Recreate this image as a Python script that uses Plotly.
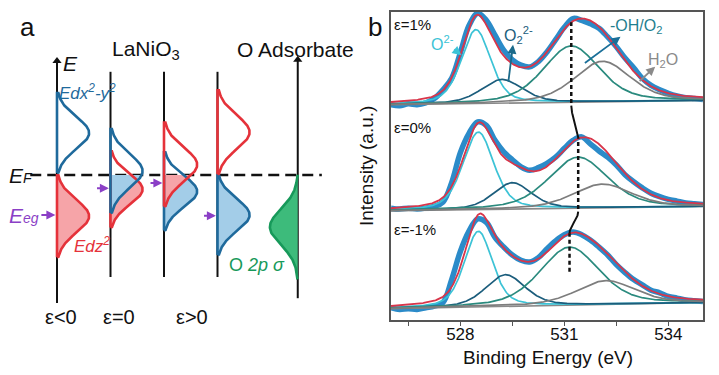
import numpy as np
import plotly.graph_objects as go

W, H = 719, 375

# ======================= Panel b : O 1s XPS data =======================
energy = [526.0, 526.25, 526.5, 526.75, 527.0, 527.25, 527.5, 527.75, 528.0, 528.25,
          528.5, 528.75, 529.0, 529.25, 529.5, 529.75, 530.0, 530.25, 530.5, 530.75,
          531.0, 531.25, 531.5, 531.75, 532.0, 532.25, 532.5, 532.75, 533.0, 533.25,
          533.5, 533.75, 534.0, 534.25, 534.5, 534.75, 535.0]
strain_labels = ["ε=1%", "ε=0%", "ε=-1%"]
stack_offset = [2.307, 1.102, 0.0]

data_p1 = [-0.02, -0.03, -0.01, -0.02, 0.0, 0.05, 0.15, 0.28, 0.57, 0.88,
           1.02, 0.94, 0.77, 0.60, 0.49, 0.43, 0.41, 0.47, 0.58, 0.72,
           0.86, 0.96, 0.94, 0.90, 0.85, 0.75, 0.64, 0.51, 0.40, 0.28,
           0.20, 0.15, 0.11, 0.08, 0.06, 0.05, 0.04]
data_0 = [0.01, 0.0, 0.01, 0.0, 0.01, 0.03, 0.08, 0.30, 0.64, 0.86,
          0.99, 0.95, 0.78, 0.65, 0.56, 0.48, 0.44, 0.47, 0.52, 0.59,
          0.69, 0.78, 0.82, 0.74, 0.66, 0.59, 0.50, 0.39, 0.31, 0.24,
          0.18, 0.14, 0.11, 0.09, 0.07, 0.06, 0.05]
data_m1 = [-0.02, -0.04, -0.03, -0.04, -0.02, 0.0, 0.04, 0.30, 0.62, 0.85,
           0.99, 0.95, 0.78, 0.67, 0.58, 0.52, 0.50, 0.55, 0.65, 0.74,
           0.81, 0.84, 0.81, 0.75, 0.67, 0.58, 0.47, 0.38, 0.30, 0.24,
           0.18, 0.15, 0.11, 0.09, 0.07, 0.06, 0.05]

# fitted components: O2-, O2^2-, -OH/O2, H2O  (centre eV, height, FWHM eV)
peak_colors = ["#3cc3d6", "#1b5d7c", "#2a8a7e", "#7d7d7d"]
center_p1 = [528.45, 529.20, 531.20, 532.10]
height_p1 = [0.84, 0.27, 0.64, 0.46]
fwhm_p1 = [1.00, 1.40, 1.90, 1.90]
center_0 = [528.52, 529.50, 531.40, 532.10]
height_0 = [0.88, 0.30, 0.58, 0.27]
fwhm_0 = [1.05, 1.30, 2.00, 2.00]
center_m1 = [528.52, 529.30, 531.15, 532.20]
height_m1 = [0.86, 0.36, 0.66, 0.27]
fwhm_m1 = [0.95, 1.35, 2.00, 2.00]
bg_left = [-0.02, -0.02, -0.03]
bg_right = [0.03, 0.03, 0.04]
lor_frac = 0.4
dash_low = [0.0, 0.0, 0.39]   # lower end of the -OH guide line (above baseline)

# ======================= Panel a : schematic DOS =======================
col_pos = [0.0, 1.0, 2.0, 3.0, 4.5]          # ε<0, ε=0, ε>0, (4th), O adsorbate
col_top = [2.85, 2.58, 2.58, 2.58, 2.88]
col_bot = [-3.2, -2.55, -2.55, -2.55, -3.08]
col_labels = ["ε<0", "ε=0", "ε>0"]
dx2_center = [1.05, 0.10, -0.41, -1.00]       # E - EF of dx2-y2 band
dx2_sigma = [0.40, 0.42, 0.39, 0.40]
dz2_center = [-1.03, -0.36, 0.26, 1.07]       # E - EF of dz2 band
dz2_sigma = [0.41, 0.38, 0.42, 0.42]
band_amp = [0.60, 0.60, 0.62, 0.60]
o2p_center, o2p_sigma, o2p_amp = -1.30, 0.45, -0.52
eg_level = [-1.0, -0.33, -0.20, -1.02]        # occupied eg centre arrows

RED, RED_F = "#e5323a", "#f6a4a8"
BLUE, BLUE_F = "#1f6a9c", "#a3cde8"
GREEN, GREEN_F = "#17995a", "#3dbb7b"
PURPLE = "#8b3fc6"

fig = go.Figure()


def px(x):
    return x / W


def py(y):
    return 1 - y / H


# ---------- panel a ----------
XA = dict(xaxis="x", yaxis="y")
for i, c in enumerate(col_pos):
    fig.add_trace(go.Scatter(x=[c, c], y=[col_bot[i], col_top[i]], mode="lines",
                             line=dict(color="#111", width=2), hoverinfo="skip",
                             showlegend=False, **XA))
for i in (0, 4):
    fig.add_trace(go.Scatter(x=[col_pos[i]], y=[col_top[i]], mode="markers",
                             marker=dict(symbol="triangle-up", size=8, color="#111"),
                             showlegend=False, hoverinfo="skip", **XA))

# Fermi level
fig.add_trace(go.Scatter(x=[-0.5, 4.95], y=[0, 0], mode="lines",
                         line=dict(color="#111", width=2.5, dash="11px,6px"),
                         showlegend=False, hoverinfo="skip", **XA))


def band(col, cen, sig, amp, k=2.5):
    lo, hi = cen - k * sig, cen + k * sig
    return lo, hi, (lambda e: col + amp * np.exp(-0.5 * ((e - cen) / sig) ** 2))


bands = []
for i in range(4):
    c = col_pos[i]
    bands.append((dz2_center[i], c, dz2_center[i], dz2_sigma[i], band_amp[i], RED, RED_F))
    bands.append((dx2_center[i], c, dx2_center[i], dx2_sigma[i], band_amp[i], BLUE, BLUE_F))

# fills (occupied part, below EF) - lower band first
for _, c, cen, sig, amp, lc, fc in sorted(bands, key=lambda b: b[0]):
    lo, hi, f = band(c, cen, sig, amp)
    top = min(hi, 0.0)
    if top <= lo:
        continue
    e = np.linspace(lo, top, 120)
    xs = np.concatenate([[c], f(e), [c]])
    ys = np.concatenate([[lo], e, [top]])
    fig.add_trace(go.Scatter(x=xs, y=ys, mode="lines", fill="toself", fillcolor=fc,
                             line=dict(width=0), showlegend=False, hoverinfo="skip", **XA))
# outlines
for _, c, cen, sig, amp, lc, fc in sorted(bands, key=lambda b: b[0]):
    lo, hi, f = band(c, cen, sig, amp)
    e = np.linspace(lo, hi, 160)
    xs = np.concatenate([[c], f(e), [c], [c]])
    ys = np.concatenate([[lo], e, [hi], [lo]])
    fig.add_trace(go.Scatter(x=xs, y=ys, mode="lines", line=dict(color=lc, width=2.6),
                             showlegend=False, hoverinfo="skip", **XA))

# O 2p sigma
lo, hi, f = band(col_pos[4], o2p_center, o2p_sigma, o2p_amp, k=2.9)
e = np.linspace(lo, hi, 160)
fig.add_trace(go.Scatter(x=np.concatenate([[col_pos[4]], f(e), [col_pos[4]]]),
                         y=np.concatenate([[lo], e, [hi]]), mode="lines", fill="toself",
                         fillcolor=GREEN_F, line=dict(color=GREEN, width=2.6),
                         showlegend=False, hoverinfo="skip", **XA))

annotations = []
# purple eg arrows
for i in range(4):
    c = col_pos[i]
    x0 = c - (0.32 if i == 0 else 0.28)
    annotations.append(dict(x=c - 0.03, y=eg_level[i], ax=x0, ay=eg_level[i],
                            xref="x", yref="y", axref="x", ayref="y", text="",
                            showarrow=True, arrowhead=2, arrowsize=0.9, arrowwidth=2,
                            arrowcolor=PURPLE))

# ---------- panel b ----------
xf = np.linspace(526.0, 535.0, 451)
XB = dict(xaxis="x2", yaxis="y2")


def pv(x, c, h, w):
    g = np.exp(-4 * np.log(2) * (x - c) ** 2 / w ** 2)
    l = 1 / (1 + 4 * (x - c) ** 2 / w ** 2)
    return h * ((1 - lor_frac) * g + lor_frac * l)


spectra = [(data_p1, center_p1, height_p1, fwhm_p1),
           (data_0, center_0, height_0, fwhm_0),
           (data_m1, center_m1, height_m1, fwhm_m1)]
env_at_oh = []
for k, (dat, cen, hei, fw) in enumerate(spectra):
    off = stack_offset[k]
    bg = bg_left[k] + (bg_right[k] - bg_left[k]) * (xf - 526.0) / 9.0
    fig.add_trace(go.Scatter(x=energy, y=[v + off for v in dat], mode="lines",
                             line=dict(color="#2b8bc9", width=5.5, shape="spline"),
                             showlegend=False, hoverinfo="skip", **XB))
    fig.add_trace(go.Scatter(x=xf, y=bg + off, mode="lines",
                             line=dict(color="#8a8a8a", width=1.6),
                             showlegend=False, hoverinfo="skip", **XB))
    env = bg.copy()
    for j in range(4):
        comp = pv(xf, cen[j], hei[j], fw[j])
        env = env + comp
        fig.add_trace(go.Scatter(x=xf, y=comp + bg + off, mode="lines",
                                 line=dict(color=peak_colors[j], width=1.7),
                                 showlegend=False, hoverinfo="skip", **XB))
    fig.add_trace(go.Scatter(x=xf, y=env + off, mode="lines",
                             line=dict(color="#d8354a", width=1.8),
                             showlegend=False, hoverinfo="skip", **XB))
    env_at_oh.append(float(np.interp(cen[2], xf, env)))

# -OH guide lines
ohc = [center_p1[2], center_0[2], center_m1[2]]
for k in range(3):
    off = stack_offset[k]
    fig.add_trace(go.Scatter(x=[ohc[k], ohc[k]], y=[off + dash_low[k], off + env_at_oh[k]],
                             mode="lines", line=dict(color="#111", width=2.5, dash="4px,3px"),
                             showlegend=False, hoverinfo="skip", **XB))
for k in range(2):
    t = np.linspace(0, 1, 30)
    s = 3 * t ** 2 - 2 * t ** 3
    x0, x1 = ohc[k], ohc[k + 1]
    y0 = stack_offset[k] - 0.03
    y1 = stack_offset[k + 1] + env_at_oh[k + 1]
    fig.add_trace(go.Scatter(x=x0 + (x1 - x0) * s, y=y0 + (y1 - y0) * t, mode="lines",
                             line=dict(color="#111", width=2),
                             showlegend=False, hoverinfo="skip", **XB))

# arrows in panel b
arrow_defs = [  # (tail x, tail y, head x, head y, colour)
    (527.78, 2.93, 528.03, 2.85, "#3cc3d6"),
    (529.38, 2.53, 529.52, 2.97, "#1b6a8a"),
    (531.55, 2.75, 532.62, 3.06, "#1a6f99"),
    (533.13, 2.54, 533.62, 2.72, "#8a8a8a"),
]
for tx, ty, hx, hy, col in arrow_defs:
    annotations.append(dict(x=hx, y=hy, ax=tx, ay=ty, xref="x2", yref="y2", axref="x2",
                            ayref="y2", text="", showarrow=True, arrowhead=2, arrowsize=1,
                            arrowwidth=1.8, arrowcolor=col))

FONT = "Arial, Liberation Sans, sans-serif"


def txt(x, y, s, size, color="#111", xa="center", ya="middle", angle=0):
    annotations.append(dict(x=px(x), y=py(y), xref="paper", yref="paper", text=s,
                            showarrow=False, xanchor=xa, yanchor=ya, textangle=angle,
                            font=dict(family=FONT, size=size, color=color)))


# panel a labels
txt(27, 27, "a", 26)
txt(146, 50, "LaNiO<sub>3</sub>", 21)
txt(295, 50, "O Adsorbate", 21)
txt(70, 64, "<i>E</i>", 21)
txt(57, 92, "<i>Edx<sup>2</sup>-y<sup>2</sup></i>", 17, BLUE, xa="left")
txt(7, 175, "<i>E<span style='font-size:14px'>F</span></i>", 21, xa="left")
txt(7, 215, "<i>E<span style='font-size:14px'>eg</span></i>", 21, PURPLE, xa="left")
txt(72, 245, "<i>Edz<sup>2</sup></i>", 17, RED, xa="left")
txt(227, 265, "O <i>2p σ</i>", 18, GREEN, xa="left")
for lab, xx in zip(col_labels, [61, 119, 192]):
    txt(xx, 317, lab, 20)

# panel b labels
txt(375, 27, "b", 26)
for lab, yy in zip(strain_labels, [25, 128, 229]):
    txt(392, yy, lab, 15, xa="left")
txt(442, 43, "O<sup>2-</sup>", 16, "#3cc3d6")
txt(518, 35, "O<sub>2</sub><sup>2-</sup>", 16, "#1b5d7c")
txt(636, 26, "-OH/O<sub>2</sub>", 16, "#1f7f8f")
txt(663, 61, "H<sub>2</sub>O", 16, "#8a8a8a")
txt(548, 357, "Binding Energy (eV)", 19)
txt(366, 166, "Intensity (a.u.)", 19, angle=-90)

fig.update_layout(
    width=W, height=H, margin=dict(l=0, r=0, t=0, b=0),
    paper_bgcolor="white", plot_bgcolor="white", showlegend=False,
    font=dict(family=FONT, size=16, color="#111"),
    annotations=annotations,
    xaxis=dict(domain=[0, 350 / W], range=[-57 / 53.5, (350 - 57) / 53.5], visible=False),
    yaxis=dict(domain=[0, 1], range=[-5, 4.375], visible=False),
    xaxis2=dict(domain=[391 / W, 703 / W], range=[526.0, 535.0], anchor="y2",
                tickvals=[526.5, 528, 529.5, 531, 532.5, 534],
                ticktext=["", "528", "", "531", "", "534"],
                ticks="outside", ticklen=4, tickwidth=1.3, tickcolor="#555",
                ticklabelstandoff=-6,
                showline=True, mirror=True, linecolor="#555", linewidth=1.5,
                showgrid=False, zeroline=False, tickfont=dict(size=17, family=FONT)),
    yaxis2=dict(domain=[1 - 320 / H, 1 - 12 / H], range=[-0.159, 3.341], anchor="x2",
                showticklabels=False, ticks="", showline=True, mirror=True,
                linecolor="#555", linewidth=1.5, showgrid=False, zeroline=False),
)

fig.write_html("out.html", config={"displayModeBar": False},
               post_script="document.body.style.margin='0px';document.body.style.padding='0px';")
